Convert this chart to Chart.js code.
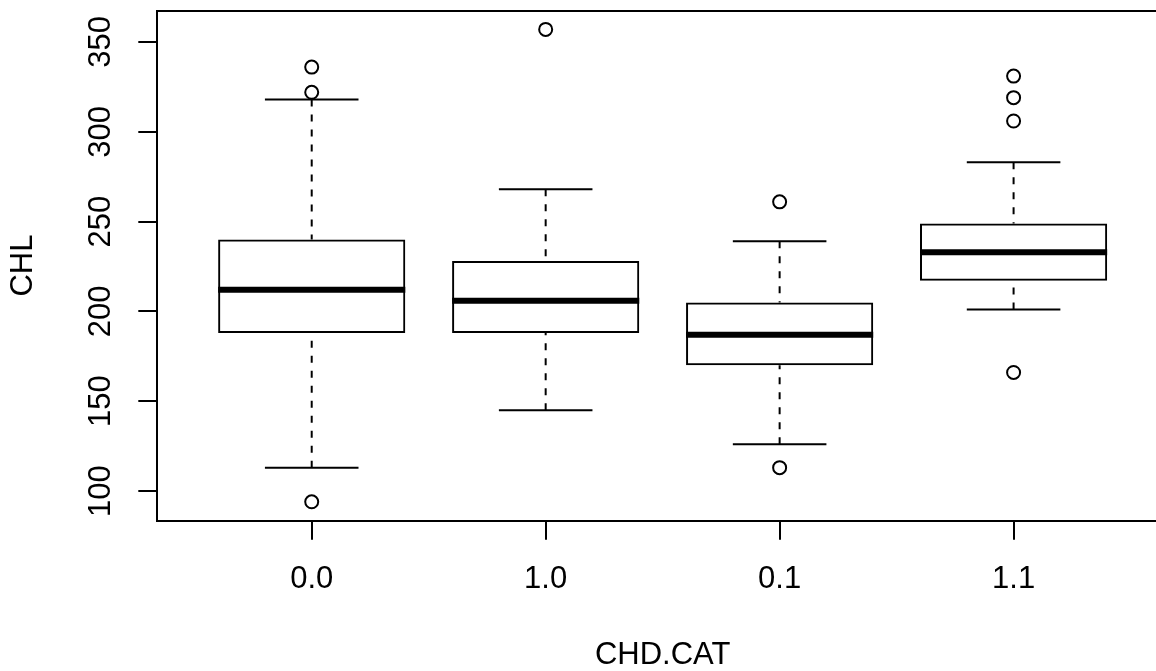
<!DOCTYPE html>
<html>
<head>
<meta charset="utf-8">
<script src="https://cdn.jsdelivr.net/npm/chart.js@4/dist/chart.umd.min.js"></script>
<style>
html,body{margin:0;padding:0;background:#fff;overflow:hidden;}
#wrap{width:1156px;height:671px;position:relative;overflow:hidden;}
#c{display:block;}
</style>
</head>
<body>
<div id="wrap"><canvas id="c" width="1168" height="671"></canvas></div>
<script>
// ---- data ----
const groups = ['0.0', '1.0', '0.1', '1.1'];
const lowerWhisker = [113, 145, 126, 201];
const q1 = [188, 188, 170, 217];
const median = [212, 206, 187, 233];
const q3 = [240, 228, 205, 249];
const upperWhisker = [318, 268, 239, 283];
const outliers = [[336, 322, 94], [357], [261, 113], [331, 319, 306, 166]];
const yTicks = [100, 150, 200, 250, 300, 350];
const xTitle = 'CHD.CAT';
const yTitle = 'CHL';

// ---- layout constants ----
const boxHalf = 0.4;     // boxwex 0.8
const stapleHalf = 0.2;  // staple width
const xMin = 0.34, xMax = 4.66;
const yMin = 83.48, yMax = 367.52;
const FONT = '"Liberation Sans", Arial, Helvetica, sans-serif';
const FS = 31;

const positions = groups.map((g, i) => i + 1);

function segs(list) {
  const pts = [];
  list.forEach(s => {
    pts.push({x: s[0], y: s[1]});
    pts.push({x: s[2], y: s[3]});
    pts.push({x: s[2], y: null});
  });
  return pts;
}

const boxData = positions.map((p, i) => ({x: p, y: [q1[i], q3[i]]}));
const medianData = segs(positions.map((p, i) => [p - boxHalf, median[i], p + boxHalf, median[i]]));
const whiskerData = segs(positions.flatMap((p, i) => [
  [p, lowerWhisker[i], p, q1[i]],
  [p, upperWhisker[i], p, q3[i]]
]));
const stapleData = segs(positions.flatMap((p, i) => [
  [p - stapleHalf, lowerWhisker[i], p + stapleHalf, lowerWhisker[i]],
  [p - stapleHalf, upperWhisker[i], p + stapleHalf, upperWhisker[i]]
]));
const outlierData = positions.flatMap((p, i) => outliers[i].map(v => ({x: p, y: v})));

const lineBase = {type: 'line', pointRadius: 0, borderColor: '#000', fill: false, spanGaps: false, tension: 0};

function zeroPad(s) { s.paddingTop = 0; s.paddingBottom = 0; s.paddingLeft = 0; s.paddingRight = 0; }

new Chart(document.getElementById('c'), {
  type: 'bar',
  data: {
    datasets: [
      {
        type: 'bar', label: 'box', data: boxData,
        backgroundColor: 'rgba(255,255,255,0)', borderColor: '#000', borderWidth: 2,
        borderSkipped: false, barPercentage: 1, categoryPercentage: 0.8, order: 5
      },
      Object.assign({}, lineBase, {label: 'whisker', data: whiskerData, borderWidth: 2, borderDash: [7, 8], order: 4}),
      Object.assign({}, lineBase, {label: 'staple', data: stapleData, borderWidth: 2, order: 3}),
      Object.assign({}, lineBase, {label: 'median', data: medianData, borderWidth: 6, borderCapStyle: 'butt', order: 1}),
      {
        type: 'scatter', label: 'outliers', data: outlierData,
        pointStyle: 'circle', pointRadius: 6.5, pointBorderWidth: 2,
        pointBorderColor: '#000', pointBackgroundColor: 'rgba(255,255,255,0)', order: 0
      }
    ]
  },
  options: {
    responsive: false,
    animation: false,
    events: [],
    layout: {padding: 0, autoPadding: false},
    plugins: {legend: {display: false}, tooltip: {enabled: false}},
    scales: {
      x: {
        type: 'linear', position: 'bottom', min: xMin, max: xMax, offset: false,
        afterBuildTicks: s => { s.ticks = positions.map(v => ({value: v})); },
        afterFit: s => { s.height = 150.3; zeroPad(s); },
        grid: {display: true, offset: false, drawOnChartArea: false, drawTicks: true, tickLength: 19,
               tickColor: '#000', tickWidth: 2, color: '#000', lineWidth: 2},
        border: {display: true, color: '#000', width: 2},
        ticks: {
          autoSkip: false, maxRotation: 0, minRotation: 0, padding: 20.7, color: '#000',
          font: {family: FONT, size: FS},
          callback: (v, i) => groups[i]
        },
        title: {display: true, text: xTitle, color: '#000', font: {family: FONT, size: FS, lineHeight: 1}, padding: {top: 0, bottom: 0}}
      },
      xTop: {
        type: 'linear', position: 'top', min: xMin, max: xMax, offset: false,
        afterFit: s => { s.height = 10.5; zeroPad(s); },
        grid: {display: false, drawOnChartArea: false, drawTicks: false},
        border: {display: true, color: '#000', width: 2},
        ticks: {display: false}
      },
      y: {
        type: 'linear', position: 'left', min: yMin, max: yMax,
        afterBuildTicks: s => { s.ticks = yTicks.map(v => ({value: v})); },
        afterFit: s => { s.width = 157.3; zeroPad(s); },
        grid: {display: true, drawOnChartArea: false, drawTicks: true, tickLength: 19,
               tickColor: '#000', tickWidth: 2, color: '#000', lineWidth: 2},
        border: {display: true, color: '#000', width: 2},
        ticks: {
          minRotation: 90, maxRotation: 90, crossAlign: 'center', padding: 11.4, color: '#000',
          font: {family: FONT, size: FS},
          callback: v => String(v)
        },
        title: {display: true, text: yTitle, color: '#000', font: {family: FONT, size: FS, lineHeight: 1}, padding: {top: 8, bottom: 0}}
      }
    }
  }
});
</script>
</body>
</html>
